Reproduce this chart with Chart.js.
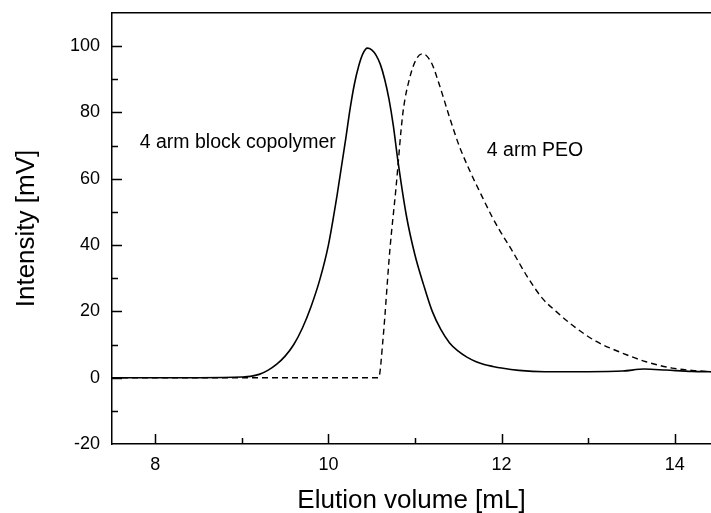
<!DOCTYPE html>
<html>
<head>
<meta charset="utf-8">
<script src="https://cdn.jsdelivr.net/npm/chart.js@4.4.1/dist/chart.umd.min.js"></script>
<style>
  html, body { margin: 0; padding: 0; background: #fff; overflow: hidden; }
  #wrap { width: 711px; height: 513px; }
</style>
</head>
<body>
<div id="wrap"><canvas id="gpcChart" width="711" height="513"></canvas></div>
<script>
// 4 arm block copolymer (solid)
const copolymerX = [7.5, 8.0, 8.5, 9.0, 9.1, 9.2, 9.3, 9.4, 9.5, 9.6, 9.7, 9.8, 9.9, 10.0, 10.1, 10.2, 10.25, 10.3, 10.35, 10.4, 10.45, 10.5, 10.55, 10.6, 10.65, 10.7, 10.75, 10.8, 10.9, 11.0, 11.1, 11.2, 11.3, 11.4, 11.5, 11.6, 11.7, 11.8, 11.9, 12.0, 12.2, 12.5, 13.0, 13.4, 13.65, 13.9, 14.2, 14.42];
const copolymerY = [0, 0, 0, 0.2, 0.4, 1, 2.2, 4, 6.5, 10, 15, 21.5, 29.5, 40, 55, 72, 81, 88.5, 94, 97.8, 99.4, 98.9, 97.3, 94.5, 90, 84, 76, 66, 49, 37, 28, 20, 14.5, 10.5, 8, 6.2, 4.9, 4, 3.4, 2.9, 2.2, 1.8, 1.8, 2, 2.6, 2.3, 1.9, 1.8];

// 4 arm PEO (dashed)
const peoX = [7.5, 8.0, 9.0, 10.0, 10.58, 10.63, 10.71, 10.78, 10.86, 10.94, 11.02, 11.09, 11.19, 11.28, 11.40, 11.51, 11.63, 11.78, 11.89, 11.975, 12.125, 12.29, 12.47, 12.63, 12.82, 13.09, 13.36, 13.67, 13.97, 14.2, 14.42];
const peoY = [0, 0, 0, 0, 0, 11.4, 38.5, 57, 79.7, 90.5, 96.3, 97.7, 95, 88.5, 78.5, 70, 62.6, 54.4, 48.6, 44.6, 38.2, 30.8, 24, 20, 15.8, 11, 7.8, 4.8, 2.9, 2.2, 1.8];

const seriesNames = ['4 arm block copolymer', '4 arm PEO'];
const xTitle = 'Elution volume [mL]';
const yTitle = 'Intensity [mV]';

const toPoints = (xs, ys) => xs.map((x, i) => ({ x: x, y: ys[i] }));

// inward tick marks + curve labels
const framePlugin = {
    id: 'frame',
    afterDraw(chart) {
        const ctx = chart.ctx;
        const xs = chart.scales.x, ys = chart.scales.y;
        const area = chart.chartArea;
        ctx.save();
        ctx.strokeStyle = '#000';
        ctx.lineWidth = 1.5;
        ctx.beginPath();
        for (let v = 8; v <= 14; v++) {
            const px = Math.round(xs.getPixelForValue(v)) + 0.5;
            const len = v % 2 === 0 ? 10 : 6;
            ctx.moveTo(px, area.bottom);
            ctx.lineTo(px, area.bottom - len);
        }
        for (let v = -10; v <= 100; v += 10) {
            const py = Math.round(ys.getPixelForValue(v)) + 0.5;
            const len = v % 20 === 0 ? 10 : 6;
            ctx.moveTo(area.left, py);
            ctx.lineTo(area.left + len, py);
        }
        ctx.stroke();

        ctx.fillStyle = '#000';
        ctx.font = '19.5px "Liberation Sans", Arial, sans-serif';
        ctx.textBaseline = 'middle';
        ctx.textAlign = 'left';
        ctx.fillText(seriesNames[0], xs.getPixelForValue(7.82), ys.getPixelForValue(71));
        ctx.fillText(seriesNames[1], xs.getPixelForValue(11.83), ys.getPixelForValue(68.5));
        ctx.restore();
    }
};

new Chart(document.getElementById('gpcChart'), {
    type: 'scatter',
    data: {
        datasets: [
            {
                label: seriesNames[0],
                data: toPoints(copolymerX, copolymerY),
                showLine: true,
                borderColor: '#000',
                borderWidth: 1.6,
                pointRadius: 0,
                cubicInterpolationMode: 'monotone'
            },
            {
                label: seriesNames[1],
                data: toPoints(peoX, peoY),
                showLine: true,
                borderColor: '#000',
                borderWidth: 1.4,
                borderDash: [6, 4],
                pointRadius: 0,
                cubicInterpolationMode: 'monotone'
            }
        ]
    },
    options: {
        responsive: false,
        animation: false,
        layout: { padding: { top: 13, right: 0, bottom: 0, left: 0 } },
        plugins: {
            legend: { display: false },
            tooltip: { enabled: false }
        },
        scales: {
            x: {
                type: 'linear',
                min: 7.5,
                max: 14.42,
                grid: { display: false, drawTicks: false },
                border: { display: true, color: '#000', width: 1.5 },
                afterBuildTicks: s => { s.ticks = [8, 10, 12, 14].map(v => ({ value: v })); },
                ticks: {
                    color: '#000',
                    padding: 10,
                    maxRotation: 0,
                    font: { family: '"Liberation Sans", Arial, sans-serif', size: 18 }
                },
                title: {
                    display: true,
                    text: xTitle,
                    color: '#000',
                    padding: { top: 0, bottom: 0 },
                    font: { family: '"Liberation Sans", Arial, sans-serif', size: 26, lineHeight: 0.9 }
                },
                afterFit: s => { s.height = 69; s.paddingLeft = 0; s.paddingRight = 0; }
            },
            x2: {
                type: 'linear',
                position: 'top',
                min: 7.5,
                max: 14.42,
                grid: { display: false, drawTicks: false },
                border: { display: true, color: '#000', width: 1.5 },
                ticks: { display: false },
                afterFit: s => { s.height = 0; }
            },
            y: {
                min: -20,
                max: 110,
                grid: { display: false, drawTicks: false },
                border: { display: true, color: '#000', width: 1.5 },
                afterBuildTicks: s => { s.ticks = [-20, 0, 20, 40, 60, 80, 100].map(v => ({ value: v })); },
                ticks: {
                    color: '#000',
                    padding: 12,
                    font: { family: '"Liberation Sans", Arial, sans-serif', size: 18 }
                },
                title: {
                    display: true,
                    text: yTitle,
                    color: '#000',
                    padding: { top: 11, bottom: 0 },
                    font: { family: '"Liberation Sans", Arial, sans-serif', size: 26 }
                },
                afterFit: s => { s.width = 112; s.paddingTop = 0; s.paddingBottom = 0; }
            }
        }
    },
    plugins: [framePlugin]
});
</script>
</body>
</html>
